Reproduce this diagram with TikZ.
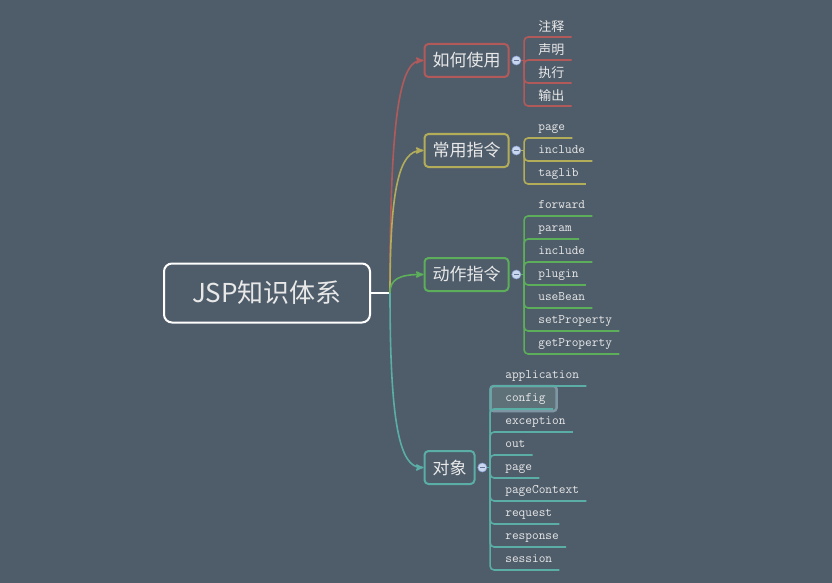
\documentclass[tikz,border=0pt]{standalone}
\usepackage{fontspec}
\setmainfont{Noto Sans CJK SC}
\newfontfamily\cjk{Noto Sans CJK SC}
\usepackage{tikz}
\usetikzlibrary{positioning,arrows}

\definecolor{bg}{HTML}{4F5D6B}
\definecolor{txt}{HTML}{E8E8E8}
\definecolor{redb}{HTML}{B25A5A}
\definecolor{yelb}{HTML}{B3AD5A}
\definecolor{grnb}{HTML}{5DAE5B}
\definecolor{teab}{HTML}{5AAEA6}
\definecolor{foldfill}{HTML}{C9D7EF}
\definecolor{folddraw}{HTML}{8FA6D6}
\definecolor{hlfill}{HTML}{5E7179}
\definecolor{hldraw}{HTML}{7F97A4}

\begin{document}
\begin{tikzpicture}[x=1pt,y=-1pt,>=stealth',semithick]
  \tikzstyle{topic}=[draw,line width=2pt,rounded corners=4pt,fill=bg,text=txt,
                     minimum height=33pt,inner xsep=8pt,font=\fontsize{17}{20}\selectfont]
  \tikzstyle{fold}=[circle,draw=folddraw,fill=foldfill,inner sep=0pt,minimum size=9pt,
                    text=folddraw!70!black]
  \tikzstyle{leaf}=[anchor=south west,inner xsep=7pt,inner ysep=0pt,text=txt,
                    text depth=7pt,font=\fontsize{13}{14}\ttfamily]
  \tikzstyle{cjkleaf}=[leaf,text depth=5pt,font=\fontsize{13}{14}\cjk]
  \tikzstyle{twig}=[line width=1.6pt,rounded corners=4pt]
  \tikzstyle{branch}=[->,line width=1.6pt]

  \useasboundingbox[fill=bg] (0,0) rectangle (832,583);

  \node[draw=white,line width=2pt,rounded corners=8pt,minimum width=206pt,
        minimum height=59pt,text=txt,font=\fontsize{26}{30}\selectfont]
        (root) at (267,293) {JSP知识体系};
  \coordinate (hub) at (390,293);

  \node[topic,draw=redb] (use) at (466.5,60.5)  {如何使用};
  \node[topic,draw=yelb] (dir) at (466.5,150.5) {常用指令};
  \node[topic,draw=grnb] (act) at (466.5,274.5) {动作指令};
  \node[topic,draw=teab] (obj) at (449.5,467.5) {对象};

  \node[fold] (usedot) [right=2pt of use] {\rule{4.5pt}{1.2pt}};
  \node[fold] (dirdot) [right=2pt of dir] {\rule{4.5pt}{1.2pt}};
  \node[fold] (actdot) [right=2pt of act] {\rule{4.5pt}{1.2pt}};
  \node[fold] (objdot) [right=2pt of obj] {\rule{4.5pt}{1.2pt}};

  \draw[white,line width=2pt] (root.east) -- (hub);
  \draw[branch,redb] (hub) .. controls +(0,-175) and +(-24,0) .. (use.west);
  \draw[branch,yelb] (hub) .. controls +(0,-106) and +(-24,0) .. (dir.west);
  \draw[branch,grnb] (hub) .. controls +(0,-14) and +(-24,0) .. (act.west);
  \draw[branch,teab] (hub) .. controls +(0,130) and +(-24,0) .. (obj.west);

  % selected topic
  \draw[fill=hlfill,draw=hldraw,line width=2.5pt,rounded corners=3pt]
       (490.5,386) rectangle (556.5,411);

  \foreach \t [count=\i] in {注释,声明,执行,输出}
    \node[cjkleaf] (use\i) at (531,14+23*\i) {\t};
  \foreach \t [count=\i] in {page,include,taglib}
    \node[leaf] (dir\i) at (531,115+23*\i) {\t};
  \foreach \t [count=\i] in {forward,param,include,plugin,useBean,setProperty,getProperty}
    \node[leaf] (act\i) at (531,193+23*\i) {\t};
  \foreach \t [count=\i] in {application,config,exception,out,page,pageContext,request,response,session}
    \node[leaf] (obj\i) at (498,363+23*\i) {\t};

  % forks
  \draw[line width=1.6pt,redb] (usedot.east) -- ++(3,0) coordinate (usefork);
  \draw[line width=1.6pt,yelb] (dirdot.east) -- ++(3,0) coordinate (dirfork);
  \draw[line width=1.6pt,grnb] (actdot.east) -- ++(3,0) coordinate (actfork);
  \draw[line width=1.6pt,teab] (objdot.east) -- ++(3,0) coordinate (objfork);

  \foreach \i in {1,...,4}
    \draw[twig,redb] (usefork) |- (use\i.south east);
  \foreach \i in {1,...,3}
    \draw[twig,yelb] (dirfork) |- (dir\i.south east);
  \foreach \i in {1,...,7}
    \draw[twig,grnb] (actfork) |- (act\i.south east);
  \foreach \i in {1,...,9}
    \draw[twig,teab] (objfork) |- (obj\i.south east);
\end{tikzpicture}
\end{document}
